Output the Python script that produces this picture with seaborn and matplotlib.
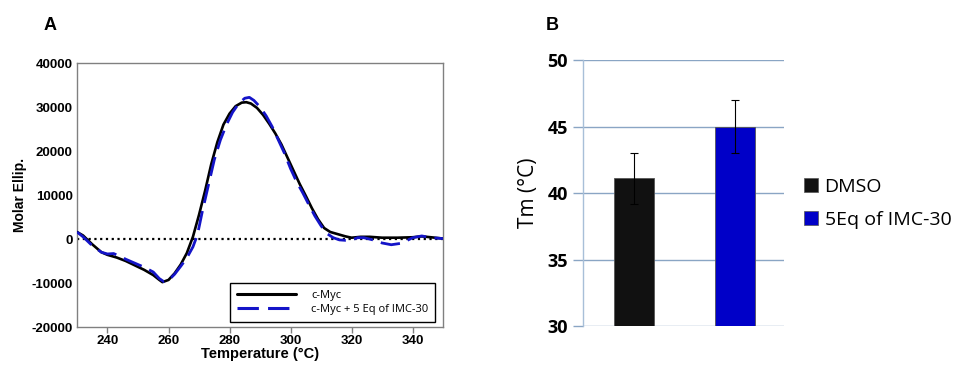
import numpy as np
import pandas as pd
import matplotlib
matplotlib.use("Agg")
import matplotlib.pyplot as plt
from matplotlib.patches import Patch
from matplotlib.lines import Line2D
import seaborn as sns

# ---- Panel A data (CD spectra) ----
myc_x = [230, 232, 235, 238, 240, 243, 246, 249, 252, 255, 257, 258, 260, 262, 264, 266,
         268, 270, 272, 274, 276, 278, 280, 282, 284, 285.5, 287, 289, 291, 293, 295, 297,
         299, 301, 303, 305, 307, 309, 311, 313, 315, 318, 320, 323, 326, 330, 335, 340,
         343, 346, 350]
myc_y = [1600, 800, -1200, -3000, -3600, -4200, -5000, -6000, -7000, -8200, -9300, -9800,
         -9300, -7800, -5800, -3200, 500, 5500, 11000, 17000, 22000, 26000, 28500, 30200,
         31000, 31100, 30800, 29800, 28200, 26200, 24000, 21500, 18500, 15500, 12500, 9800,
         7000, 4500, 2500, 1600, 1200, 600, 300, 500, 500, 300, 300, 400, 600, 400, 100]

imc_x = [230, 232, 235, 238, 240, 242, 244, 246, 249, 252, 255, 257, 258.5, 260, 262, 264,
         266, 268, 269.5, 271, 273, 275, 277, 279, 281, 283, 285, 286.5, 288, 290, 292, 294,
         296, 298, 300, 302, 304, 306, 308, 310, 312, 314, 316, 318, 320, 322, 324, 327, 330,
         333, 336, 338, 340, 343, 346, 350]
imc_y = [1600, 500, -1500, -3000, -3400, -3300, -3900, -4600, -5500, -6400, -7500, -9000,
         -9700, -9400, -8000, -6200, -4300, -1800, 1000, 6000, 12000, 18000, 22500, 26000,
         28800, 30800, 32000, 32200, 31500, 30000, 28000, 25500, 22500, 19500, 16000, 13000,
         10500, 7800, 5200, 3000, 1200, 300, -200, -300, -200, 300, 300, -200, -900, -1300,
         -1000, -400, 300, 700, 300, 100]

series_labels = ["c-Myc", "c-Myc + 5 Eq of IMC-30"]
a_xticks = [240, 260, 280, 300, 320, 340]
a_yticks = [-20000, -10000, 0, 10000, 20000, 30000, 40000]

# ---- Panel B data (Tm) ----
conditions = ["DMSO", "5Eq of IMC-30"]
tm_values = [41.1, 45.0]
tm_errors = [1.9, 2.0]
b_yticks = [30, 35, 40, 45, 50]

sns.set_theme(style="white")
plt.rcParams['font.family'] = ['Liberation Sans', 'DejaVu Sans']
plt.rcParams['text.color'] = 'black'
plt.rcParams['axes.labelcolor'] = 'black'
plt.rcParams['xtick.color'] = 'black'
plt.rcParams['ytick.color'] = 'black'

BLUE = "#1414c8"
DASH = (0, (7, 3))

fig = plt.figure(figsize=(9.55, 3.73), dpi=100)

# ================= Panel A =================
axA = fig.add_axes([0.0806, 0.1233, 0.3834, 0.7077])
dfA = pd.concat([
    pd.DataFrame({"x": myc_x, "y": myc_y, "s": series_labels[0]}),
    pd.DataFrame({"x": imc_x, "y": imc_y, "s": series_labels[1]}),
])
axA.axhline(0, color="black", linestyle=(0, (1, 1.6)), lw=1.6, zorder=1)
sns.lineplot(data=dfA[dfA.s == series_labels[0]], x="x", y="y", ax=axA,
             color="black", lw=1.9, sort=False, legend=False, zorder=3)
sns.lineplot(data=dfA[dfA.s == series_labels[1]], x="x", y="y", ax=axA,
             color=BLUE, lw=2.0, sort=False, legend=False, zorder=4,
             dashes=False, linestyle=DASH)
axA.set_xlim(230, 350)
axA.set_ylim(-20000, 40000)
axA.set_xticks(a_xticks)
axA.set_yticks(a_yticks)
axA.set_xticklabels([str(t) for t in a_xticks], fontsize=9.5, fontweight="bold")
axA.set_yticklabels([str(t) for t in a_yticks], fontsize=9.5, fontweight="bold")
axA.tick_params(axis="x", direction="out", length=4, width=1, color="#808080", pad=2,
                bottom=True, labelcolor="black")
axA.tick_params(axis="y", direction="out", length=0, pad=3, left=True, labelcolor="black")
for sp in axA.spines.values():
    sp.set_color("#808080")
    sp.set_linewidth(1.0)
axA.set_xlabel("Temperature (°C)", fontsize=10.5, fontweight="bold", labelpad=0)
axA.set_ylabel("Molar Ellip.", fontsize=10, fontweight="bold", labelpad=3)
handlesA = [Line2D([], [], color="black", lw=2.2),
            Line2D([], [], color=BLUE, lw=2.2, linestyle=DASH)]
legA = axA.legend(handlesA, series_labels, loc="lower right",
                  bbox_to_anchor=(0.978, 0.019), borderaxespad=0,
                  prop={"family": "Open Sans", "size": 8},
                  handlelength=5.3, handletextpad=1.4, fancybox=False,
                  frameon=True, edgecolor="black", framealpha=1,
                  borderpad=0.6, labelspacing=0.3)
legA.get_frame().set_linewidth(1.0)
fig.text(50 / 955, 1 - 25 / 373, "A", fontsize=13, fontweight="bold",
         ha="center", va="center")

# ================= Panel B =================
axB = fig.add_axes([0.6105, 0.126, 0.2105, 0.713])
dfB = pd.DataFrame({"cond": conditions, "tm": tm_values})
sns.barplot(data=dfB, x="cond", y="tm", hue="cond", ax=axB,
            palette=["#111111", "#0000c8"], width=0.4, errorbar=None,
            legend=False, saturation=1, edgecolor="#555555", linewidth=0.6, zorder=3)
axB.errorbar(x=list(range(len(conditions))), y=tm_values, yerr=tm_errors,
             fmt="none", ecolor="black", elinewidth=0.8, capsize=3, capthick=0.8,
             zorder=4)
# bars start at 30 (axis floor)
for p, v in zip(axB.patches, tm_values):
    p.set_y(30)
    p.set_height(v - 30)
axB.set_xlim(-0.506, 1.486)
axB.set_ylim(30, 50)
axB.set_yticks(b_yticks)
axB.set_yticklabels([str(t) for t in b_yticks], fontsize=13, fontweight="bold",
                    family=["Open Sans", "DejaVu Sans"])
axB.set_xticks([])
axB.set_xlabel("")
axB.grid(axis="y", color="#8aa5c4", lw=1.0, zorder=0)
axB.set_axisbelow(True)
axB.tick_params(axis="y", direction="out", length=7, width=1.0, color="#8aa5c4",
                pad=4, left=True, labelcolor="black")
for s in ["top", "right", "bottom"]:
    axB.spines[s].set_visible(False)
axB.spines["left"].set_color("#a8bfd8")
axB.spines["left"].set_linewidth(1.0)
axB.set_ylabel("Tm (°C)", fontsize=15, family=["Open Sans", "DejaVu Sans"], labelpad=6)
handlesB = [Patch(facecolor="#111111", edgecolor="#555555", lw=0.5),
            Patch(facecolor="#0000c8", edgecolor="#555555", lw=0.5)]
fig.legend(handlesB, conditions, loc="center left",
           bbox_to_anchor=(0.842, 0.455), frameon=False,
           prop={"family": "Open Sans", "size": 14},
           handlelength=0.7, handleheight=0.7, handletextpad=0.35,
           labelspacing=0.75, borderaxespad=0, borderpad=0)
fig.text(552 / 955, 1 - 25 / 373, "B", fontsize=13, fontweight="bold",
         ha="center", va="center")

fig.savefig("out.png", dpi=100, facecolor="white")
